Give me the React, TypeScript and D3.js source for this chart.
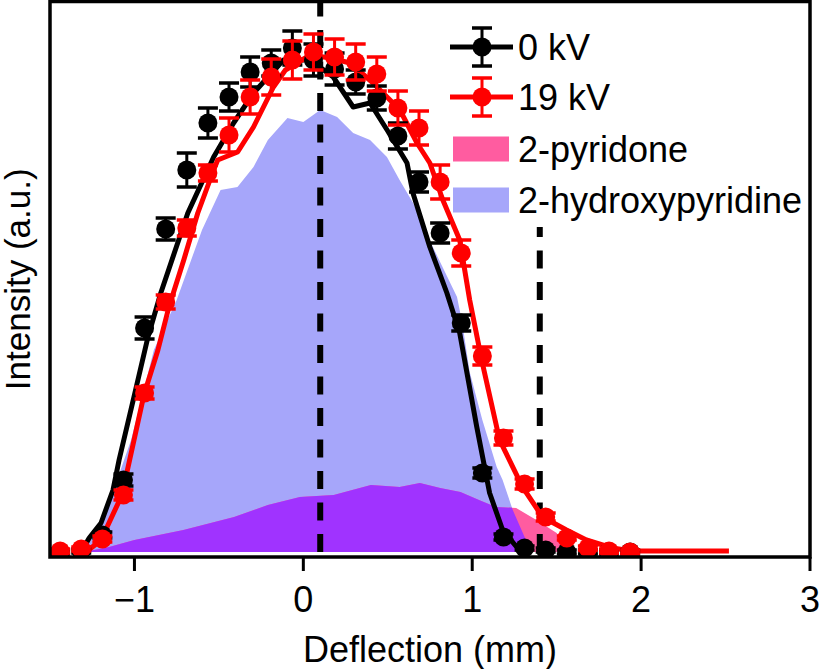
import React from 'react';
import * as d3 from 'd3';

// measured deflection positions (mm)
const deflection = [-1.44, -1.315, -1.19, -1.065, -0.94, -0.815, -0.69, -0.565, -0.44, -0.315, -0.19, -0.065, 0.06, 0.185, 0.31, 0.435, 0.56, 0.685, 0.81, 0.935, 1.06, 1.185, 1.31, 1.435, 1.56, 1.685, 1.81, 1.935];

// 0 kV measurement
const int0kV = [0.0, 0.002, 0.034, 0.144, 0.448, 0.646, 0.764, 0.858, 0.91, 0.96, 0.978, 1.008, 0.984, 0.966, 0.94, 0.908, 0.832, 0.74, 0.638, 0.458, 0.158, 0.03, 0.008, 0.004, 0.0, 0.0, 0.0, 0.0];
const err0kV = [0.004, 0.004, 0.006, 0.012, 0.022, 0.022, 0.034, 0.03, 0.028, 0.03, 0.026, 0.034, 0.032, 0.032, 0.024, 0.024, 0.026, 0.02, 0.02, 0.016, 0.01, 0.006, 0.004, 0.004, 0.004, 0.004, 0.004, 0.004];

// 19 kV measurement
const int19kV = [0.002, 0.006, 0.026, 0.114, 0.318, 0.5, 0.648, 0.758, 0.834, 0.91, 0.95, 0.984, 1.0, 0.99, 0.98, 0.956, 0.888, 0.848, 0.74, 0.598, 0.392, 0.228, 0.136, 0.07, 0.028, 0.008, 0.002, 0.0];
const err19kV = [0.004, 0.004, 0.006, 0.01, 0.012, 0.014, 0.016, 0.016, 0.034, 0.034, 0.036, 0.038, 0.036, 0.036, 0.036, 0.034, 0.034, 0.034, 0.034, 0.026, 0.018, 0.014, 0.01, 0.008, 0.004, 0.004, 0.004, 0.004];

// simulated profiles
const sim0kVX = [-1.316, -1.268, -1.198, -1.127, -1.091, -1.003, -0.92, -0.844, -0.684, -0.531, -0.413, -0.295, -0.118, 0.041, 0.177, 0.295, 0.395, 0.496, 0.614, 0.649, 0.749, 0.85, 0.926, 1.027, 1.103, 1.18, 1.263, 1.322];
const sim0kVY = [0, 0.028, 0.058, 0.124, 0.184, 0.31, 0.43, 0.518, 0.678, 0.79, 0.858, 0.918, 0.984, 0.984, 0.95, 0.89, 0.898, 0.844, 0.778, 0.718, 0.61, 0.518, 0.438, 0.25, 0.118, 0.044, 0.01, 0];

const sim19kVX = [-1.286, -1.198, -1.074, -0.944, -0.861, -0.796, -0.708, -0.625, -0.531, -0.507, -0.389, -0.295, -0.177, -0.106, 0.041, 0.159, 0.277, 0.413, 0.572, 0.673, 0.749, 0.826, 0.926, 0.985, 1.056, 1.162, 1.298, 1.416, 1.558, 1.676, 1.829, 1.947, 2.52];
const sim19kVY = [0, 0.024, 0.114, 0.314, 0.404, 0.49, 0.584, 0.678, 0.764, 0.784, 0.8, 0.85, 0.93, 0.964, 0.994, 0.988, 0.978, 0.938, 0.884, 0.818, 0.778, 0.704, 0.624, 0.504, 0.384, 0.224, 0.13, 0.07, 0.044, 0.024, 0.008, 0.002, 0.002];

// tautomer contributions
const hydroxyX = [-1.32, -1.2, -1.02, -0.885, -0.75, -0.6, -0.49, -0.39, -0.295, -0.21, -0.094, 0.0, 0.1, 0.2, 0.295, 0.395, 0.495, 0.57, 0.65, 0.767, 0.91, 0.94, 0.985, 1.06, 1.145, 1.18, 1.24, 1.31, 1.36];
const hydroxyY = [0, 0.05, 0.224, 0.404, 0.504, 0.644, 0.724, 0.73, 0.77, 0.824, 0.868, 0.86, 0.884, 0.87, 0.838, 0.824, 0.79, 0.744, 0.698, 0.61, 0.51, 0.46, 0.36, 0.264, 0.17, 0.144, 0.084, 0.03, 0];

const pyridoneX = [-1.3, -1.15, -1.0, -0.71, -0.41, -0.21, -0.02, 0.18, 0.4, 0.57, 0.69, 0.81, 0.93, 1.04, 1.14, 1.26, 1.38, 1.5, 1.55, 1.6];
const pyridoneY = [0, 0.01, 0.024, 0.044, 0.07, 0.094, 0.11, 0.114, 0.134, 0.13, 0.138, 0.128, 0.12, 0.104, 0.09, 0.088, 0.064, 0.038, 0.014, 0];

// dashed markers: [position, height]
const markerLines = [[0.1, 1.2], [1.4, 0.65]];

const xTicks = [-1, 0, 1, 2, 3];

const W = 820, H = 669;
const plot = { left: 50, right: 810, top: 1.5, bottom: 557 };

const LAVENDER = '#a6a6fa';
const PINK = '#ff5ca0';
const PURPLE = '#a033ff';
const RED = '#ff0000';
const FONT = '"Liberation Sans", Arial, Helvetica, sans-serif';

const xScale = d3.scaleLinear().domain([-1.5, 3]).range([plot.left, plot.right]);
const yScale = d3.scaleLinear().domain([-0.01, 1.1]).range([plot.bottom, 2]);

const zip = (xs: number[], ys: number[]) => xs.map((x, i) => [x, ys[i]] as [number, number]);

const area = d3.area<[number, number]>()
    .x(d => xScale(d[0]))
    .y0(yScale(0))
    .y1(d => yScale(d[1]));

const line = d3.line<[number, number]>()
    .x(d => xScale(d[0]))
    .y(d => yScale(d[1]));

const fmt = d3.format('d');

function ErrorPoints({ ys, errs, color }: { ys: number[], errs: number[], color: string }) {
    return (
        <g stroke={color} fill={color}>
            {deflection.map((x, i) => {
                const cx = xScale(x);
                const lo = yScale(ys[i] - errs[i]);
                const hi = yScale(ys[i] + errs[i]);
                return (
                    <g key={i}>
                        <line x1={cx} x2={cx} y1={lo} y2={hi} strokeWidth={3} />
                        <line x1={cx - 10} x2={cx + 10} y1={lo} y2={lo} strokeWidth={3.5} />
                        <line x1={cx - 10} x2={cx + 10} y1={hi} y2={hi} strokeWidth={3.5} />
                        <circle cx={cx} cy={yScale(ys[i])} r={9.5} stroke="none" />
                    </g>
                );
            })}
        </g>
    );
}

function LegendErrorbar({ y, color, label }: { y: number, color: string, label: string }) {
    const cx = 482;
    return (
        <g>
            <line x1={450} x2={513} y1={y} y2={y} stroke={color} strokeWidth={5} />
            <line x1={cx} x2={cx} y1={y - 19} y2={y + 19} stroke={color} strokeWidth={3} />
            <line x1={cx - 10} x2={cx + 10} y1={y - 19} y2={y - 19} stroke={color} strokeWidth={3.5} />
            <line x1={cx - 10} x2={cx + 10} y1={y + 19} y2={y + 19} stroke={color} strokeWidth={3.5} />
            <circle cx={cx} cy={y} r={9.5} fill={color} />
            <text x={518} y={y + 13} fontSize={36} fontFamily={FONT}>{label}</text>
        </g>
    );
}

function LegendPatch({ y, color, label }: { y: number, color: string, label: string }) {
    return (
        <g>
            <rect x={453} y={y - 12.5} width={56} height={25} fill={color} />
            <text x={518} y={y + 13} fontSize={36} fontFamily={FONT}>{label}</text>
        </g>
    );
}

export default function App() {
    const hydroxy = zip(hydroxyX, hydroxyY);
    const pyridone = zip(pyridoneX, pyridoneY);
    const hydroxyPath = area(hydroxy) || '';
    const pyridonePath = area(pyridone) || '';

    return (
        <svg width={W} height={H} style={{ position: 'absolute', left: 0, top: 0, background: '#fff' }}>
            <defs>
                <clipPath id="plotArea">
                    <rect x={plot.left} y={plot.top} width={plot.right - plot.left} height={plot.bottom - plot.top} />
                </clipPath>
                <clipPath id="hydroxyClip">
                    <path d={hydroxyPath} />
                </clipPath>
            </defs>

            <g clipPath="url(#plotArea)">
                <path d={hydroxyPath} fill={LAVENDER} />
                <path d={pyridonePath} fill={PINK} />
                {/* overlap of the two tautomers */}
                <path d={pyridonePath} fill={PURPLE} clipPath="url(#hydroxyClip)" />

                {markerLines.map(([x, h], i) => (
                    <line key={i} x1={xScale(x)} x2={xScale(x)} y1={yScale(0)} y2={yScale(h)}
                        stroke="#000" strokeWidth={6} strokeDasharray="18,13.5" />
                ))}

                <path d={line(zip(sim0kVX, sim0kVY)) || ''} fill="none" stroke="#000" strokeWidth={5} strokeLinejoin="round" />
                <path d={line(zip(sim19kVX, sim19kVY)) || ''} fill="none" stroke={RED} strokeWidth={5} strokeLinejoin="round" />

                <ErrorPoints ys={int0kV} errs={err0kV} color="#000" />
                <ErrorPoints ys={int19kV} errs={err19kV} color={RED} />
            </g>

            {/* frame */}
            <rect x={plot.left} y={plot.top} width={plot.right - plot.left} height={plot.bottom - plot.top}
                fill="none" stroke="#000" strokeWidth={3.5} />

            {xTicks.map(t => (
                <g key={t} transform={`translate(${xScale(t)},0)`}>
                    <line y1={plot.bottom} y2={plot.bottom + 14} stroke="#000" strokeWidth={3} />
                    <text y={612} textAnchor="middle" fontSize={36} fontFamily={FONT}>
                        {t < 0 ? '\u2212' + fmt(-t) : fmt(t)}
                    </text>
                </g>
            ))}

            <text x={(plot.left + plot.right) / 2} y={662} textAnchor="middle" fontSize={36} fontFamily={FONT}>
                Deflection (mm)
            </text>
            <text transform={`translate(30,${(plot.top + plot.bottom) / 2}) rotate(-90)`} textAnchor="middle"
                fontSize={35} fontFamily={FONT}>
                Intensity (a.u.)
            </text>

            <LegendErrorbar y={47} color="#000" label="0 kV" />
            <LegendErrorbar y={97} color={RED} label="19 kV" />
            <LegendPatch y={149} color={PINK} label="2-pyridone" />
            <LegendPatch y={200} color={LAVENDER} label="2-hydroxypyridine" />
        </svg>
    );
}
